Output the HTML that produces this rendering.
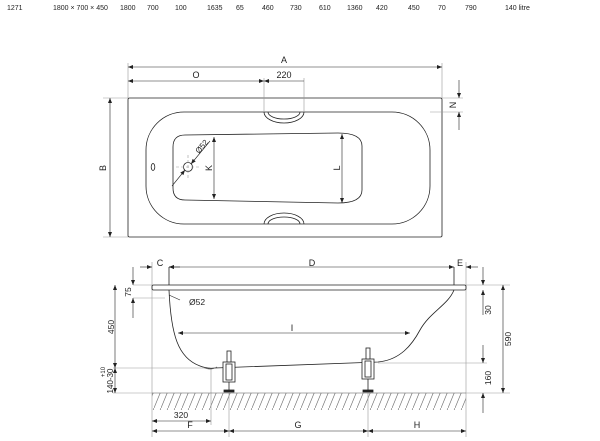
<!DOCTYPE html>
<html><head><meta charset="utf-8"><style>
html,body{margin:0;padding:0;background:#fff;width:600px;height:441px;overflow:hidden}
svg{display:block}
text{font-family:"Liberation Sans",sans-serif;fill:#222}
.t{font-size:7px;fill:#555}
.d{font-size:9px}
</style></head><body>
<svg width="600" height="441" viewBox="0 0 600 441" xmlns="http://www.w3.org/2000/svg">
<defs>
<marker id="a" viewBox="0 0 10 10" refX="10" refY="5" markerWidth="7" markerHeight="5" orient="auto-start-reverse" markerUnits="userSpaceOnUse"><path d="M0,1 L10,5 L0,9 z" fill="#222"/></marker>
<pattern id="h" width="7" height="17" patternUnits="userSpaceOnUse"><line x1="0" y1="17" x2="7" y2="0" stroke="#777" stroke-width="0.7"/></pattern>
</defs>
<g class="t">
<text x="7" y="10">1271</text><text x="53" y="10">1800 × 700 × 450</text><text x="120" y="10">1800</text><text x="147" y="10">700</text><text x="175" y="10">100</text><text x="207" y="10">1635</text><text x="236" y="10">65</text><text x="262" y="10">460</text><text x="290" y="10">730</text><text x="319" y="10">610</text><text x="347" y="10">1360</text><text x="376" y="10">420</text><text x="408" y="10">450</text><text x="438" y="10">70</text><text x="465" y="10">790</text><text x="505" y="10">140 litre</text>
</g>
<!-- TOP VIEW -->
<g fill="none" stroke="#222" stroke-width="0.8">
<rect x="128" y="98" width="314" height="139" rx="1.5"/>
<rect x="146" y="112" width="284" height="112" rx="38"/>
<path d="M185,135 L338,133 Q362,133 362,146 L362,190 Q362,203 338,203 L185,200 Q173,200 173,188 L173,147 Q173,135 185,135 Z"/>
<path d="M264,112 A20,11 0 0 0 304,112"/><path d="M268,112 A16,7 0 0 0 300,112"/>
<path d="M264,224 A20,11 0 0 1 304,224"/><path d="M268,224 A16,7 0 0 1 300,224"/>
<circle cx="188" cy="167" r="4.5"/>
<ellipse cx="153" cy="167" rx="1.8" ry="3.5"/>
</g>
<g stroke="#999" stroke-width="0.6" fill="none">
<line x1="128" y1="63" x2="128" y2="98"/><line x1="442" y1="63" x2="442" y2="98"/>
<line x1="264" y1="78" x2="264" y2="112"/><line x1="304" y1="78" x2="304" y2="112"/>
<line x1="103" y1="98" x2="128" y2="98"/><line x1="103" y1="237" x2="128" y2="237"/>
<line x1="430" y1="112" x2="463" y2="112"/><line x1="442" y1="98" x2="463" y2="98"/>
<line x1="176" y1="167" x2="200" y2="167" stroke-dasharray="3,2"/><line x1="188" y1="155" x2="188" y2="179" stroke-dasharray="3,2"/>
</g>
<g stroke="#222" stroke-width="0.6" fill="none">
<line x1="128" y1="67" x2="442" y2="67" marker-start="url(#a)" marker-end="url(#a)"/>
<line x1="128" y1="81" x2="264" y2="81" marker-start="url(#a)" marker-end="url(#a)"/>
<line x1="264" y1="81" x2="304" y2="81" marker-start="url(#a)"/>
<line x1="110" y1="98" x2="110" y2="237" marker-start="url(#a)" marker-end="url(#a)"/>
<line x1="459" y1="80" x2="459" y2="98" marker-end="url(#a)"/><line x1="459" y1="130" x2="459" y2="112" marker-end="url(#a)"/>
<line x1="214" y1="137" x2="214" y2="199" marker-start="url(#a)" marker-end="url(#a)"/>
<line x1="342" y1="134" x2="342" y2="203" marker-start="url(#a)" marker-end="url(#a)"/>
<line x1="210" y1="141" x2="191" y2="164" marker-end="url(#a)"/>
<line x1="172" y1="186" x2="185" y2="170" marker-end="url(#a)"/>
</g>
<g class="d">
<text x="284" y="63" text-anchor="middle">A</text>
<text x="196" y="78" text-anchor="middle">O</text>
<text x="284" y="78" text-anchor="middle">220</text>
<text transform="translate(106,168) rotate(-90)" text-anchor="middle">B</text>
<text transform="translate(456,105) rotate(-90)" text-anchor="middle">N</text>
<text transform="translate(212,168) rotate(-90)" text-anchor="middle">K</text>
<text transform="translate(340,168) rotate(-90)" text-anchor="middle">L</text>
<text transform="translate(199,154) rotate(-50)" font-size="8">Ø52</text>
</g>
<!-- SIDE VIEW -->
<rect x="152" y="393" width="314" height="17" fill="url(#h)"/>
<g stroke="#999" stroke-width="0.6" fill="none">
<line x1="152" y1="262" x2="152" y2="437"/><line x1="466" y1="262" x2="466" y2="437"/>
<line x1="229" y1="393" x2="229" y2="437"/><line x1="368" y1="393" x2="368" y2="437"/>
<line x1="211" y1="368" x2="211" y2="425"/>
<line x1="113" y1="368" x2="210" y2="368"/><line x1="113" y1="393" x2="152" y2="393"/>
<line x1="133" y1="298" x2="165" y2="298"/><line x1="133" y1="285" x2="152" y2="285"/>
<line x1="466" y1="285" x2="510" y2="285"/><line x1="466" y1="393" x2="510" y2="393"/>
<line x1="378" y1="363" x2="487" y2="363"/>
<line x1="152" y1="393" x2="466" y2="393" stroke="#555"/>
</g>
<g fill="none" stroke="#222" stroke-width="0.8">
<rect x="152" y="285" width="314" height="5" rx="1.5"/>
<line x1="169" y1="267" x2="169" y2="285"/><line x1="454" y1="267" x2="454" y2="285"/>
<path d="M169,290 C171,335 178,358 200,366 Q208,369 215,368 L378,362 C400,360 412,345 420,330 C430,312 448,305 454,290"/>
<path d="M203,367 Q210,371 217,367" stroke="#666"/>
<path d="M169,295 L180,300" stroke-width="0.6"/>
</g>
<g fill="#fff" stroke="#222" stroke-width="0.8">
<rect x="223" y="362" width="12" height="20"/><rect x="226" y="364" width="6" height="16" fill="none"/>
<rect x="227" y="351" width="4" height="11"/><line x1="229" y1="382" x2="229" y2="391"/><rect x="224" y="390" width="10" height="2" fill="#222"/>
<rect x="362" y="359" width="12" height="20"/><rect x="365" y="361" width="6" height="16" fill="none"/>
<rect x="366" y="348" width="4" height="11"/><line x1="368" y1="379" x2="368" y2="391"/><rect x="363" y="390" width="10" height="2" fill="#222"/>
</g>
<g stroke="#222" stroke-width="0.6" fill="none">
<line x1="140" y1="267" x2="152" y2="267" marker-end="url(#a)"/><line x1="180" y1="267" x2="169" y2="267" marker-end="url(#a)"/>
<line x1="169" y1="267" x2="454" y2="267" marker-start="url(#a)" marker-end="url(#a)"/>
<line x1="478" y1="267" x2="466" y2="267" marker-end="url(#a)"/>
<line x1="178" y1="333" x2="410" y2="333" marker-start="url(#a)" marker-end="url(#a)"/>
<line x1="133" y1="267" x2="133" y2="285" marker-end="url(#a)"/><line x1="133" y1="318" x2="133" y2="298" marker-end="url(#a)"/>
<line x1="115" y1="285" x2="115" y2="368" marker-start="url(#a)" marker-end="url(#a)"/>
<line x1="115" y1="368" x2="115" y2="393" marker-start="url(#a)" marker-end="url(#a)"/>
<line x1="483" y1="267" x2="483" y2="285" marker-end="url(#a)"/><line x1="483" y1="315" x2="483" y2="290" marker-end="url(#a)"/>
<line x1="503" y1="285" x2="503" y2="393" marker-start="url(#a)" marker-end="url(#a)"/>
<line x1="483" y1="345" x2="483" y2="363" marker-end="url(#a)"/><line x1="483" y1="413" x2="483" y2="393" marker-end="url(#a)"/>
<line x1="152" y1="421" x2="211" y2="421" marker-start="url(#a)" marker-end="url(#a)"/>
<line x1="152" y1="431" x2="229" y2="431" marker-start="url(#a)" marker-end="url(#a)"/>
<line x1="229" y1="431" x2="368" y2="431" marker-start="url(#a)" marker-end="url(#a)"/>
<line x1="368" y1="431" x2="466" y2="431" marker-start="url(#a)" marker-end="url(#a)"/>
</g>
<g class="d">
<text x="160" y="266" text-anchor="middle">C</text>
<text x="312" y="266" text-anchor="middle">D</text>
<text x="460" y="266" text-anchor="middle">E</text>
<text x="292" y="331" text-anchor="middle">I</text>
<text x="189" y="305" font-size="8.5">Ø52</text>
<text transform="translate(131,292) rotate(-90)" text-anchor="middle" font-size="8.5">75</text>
<text transform="translate(114,327) rotate(-90)" text-anchor="middle" font-size="8.5">450</text>
<text transform="translate(113,381) rotate(-90)" text-anchor="middle" font-size="8">140-30</text>
<text transform="translate(105,372) rotate(-90)" text-anchor="middle" font-size="6">+10</text>
<text transform="translate(491,310) rotate(-90)" text-anchor="middle" font-size="8.5">30</text>
<text transform="translate(511,339) rotate(-90)" text-anchor="middle" font-size="8.5">590</text>
<text transform="translate(491,378) rotate(-90)" text-anchor="middle" font-size="8.5">160</text>
<text x="181" y="418" text-anchor="middle" font-size="8.5">320</text>
<text x="190" y="428" text-anchor="middle">F</text>
<text x="298" y="428" text-anchor="middle">G</text>
<text x="417" y="428" text-anchor="middle">H</text>
</g>
</svg>
</body></html>
